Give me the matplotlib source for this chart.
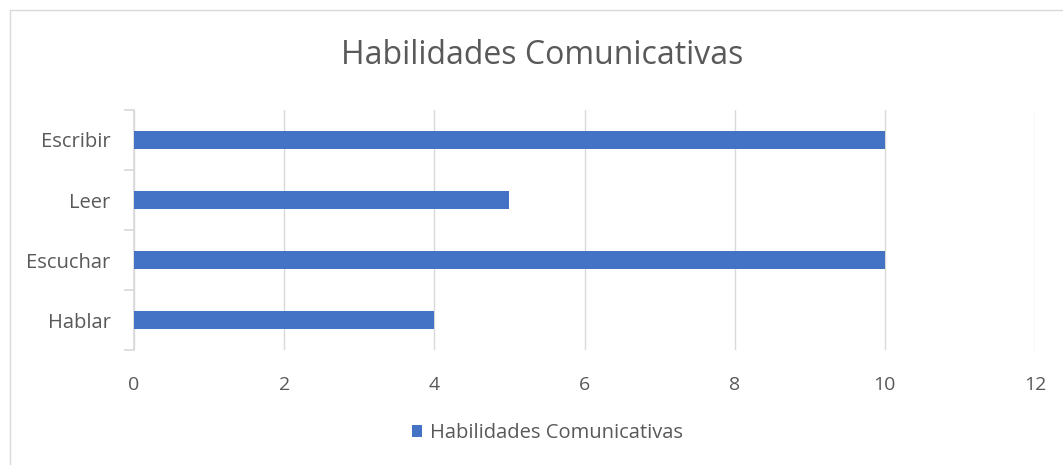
import matplotlib.pyplot as plt
from matplotlib.patches import Rectangle

categories = ["Hablar", "Escuchar", "Leer", "Escribir"]
values = [4, 10, 5, 10]
series_name = "Habilidades Comunicativas"
x_ticks = [0, 2, 4, 6, 8, 10, 12]

plt.rcParams['font.family'] = ['Open Sans', 'DejaVu Sans']
TXT = "#595959"
GRID = "#D9D9D9"
BAR = "#4472C4"

fig = plt.figure(figsize=(10.63, 4.65), dpi=100)
# chart area border
fig.patches.append(Rectangle((10/1063, -0.01), 1.02, 1 - 10/465 + 0.01,
                             transform=fig.transFigure, fill=False,
                             edgecolor=GRID, lw=1.0))

ax = fig.add_axes([134/1063, 115/465, (1035-134)/1063, 240/465])
y = range(len(categories))
ax.barh(y, values, height=0.31, color=BAR, label=series_name, zorder=3)

ax.set_xlim(0, 12)
ax.set_ylim(-0.5, len(categories) - 0.5)
ax.set_xticks(x_ticks)
ax.set_xticklabels([str(t) for t in x_ticks], fontsize=14, color=TXT)
ax.tick_params(axis='x', length=0, pad=19)

ax.set_yticks([i - 0.5 for i in range(len(categories) + 1)], minor=False)
ax.set_yticklabels([])
ax.set_yticks(list(y), minor=True)
ax.set_yticklabels(categories, minor=True, fontsize=14.5, color=TXT)
ax.tick_params(axis='y', which='major', length=7, color=GRID, width=1.2)
ax.tick_params(axis='y', which='minor', length=0, pad=17)

ax.grid(axis='x', color=GRID, lw=1.0, zorder=0)
for s in ['top', 'right', 'bottom']:
    ax.spines[s].set_visible(False)
ax.spines['left'].set_color(GRID)
ax.spines['left'].set_linewidth(1.2)

fig.text(0.51, 1 - 55/465, series_name, ha='center', va='center',
         fontsize=23, color=TXT)

leg = fig.legend(loc='center', bbox_to_anchor=(0.515, 1 - 433/465), frameon=False,
                 fontsize=14.5, handlelength=0.5, handleheight=0.5,
                 handletextpad=0.4, labelcolor=TXT)

fig.savefig("out.png", dpi=100)
